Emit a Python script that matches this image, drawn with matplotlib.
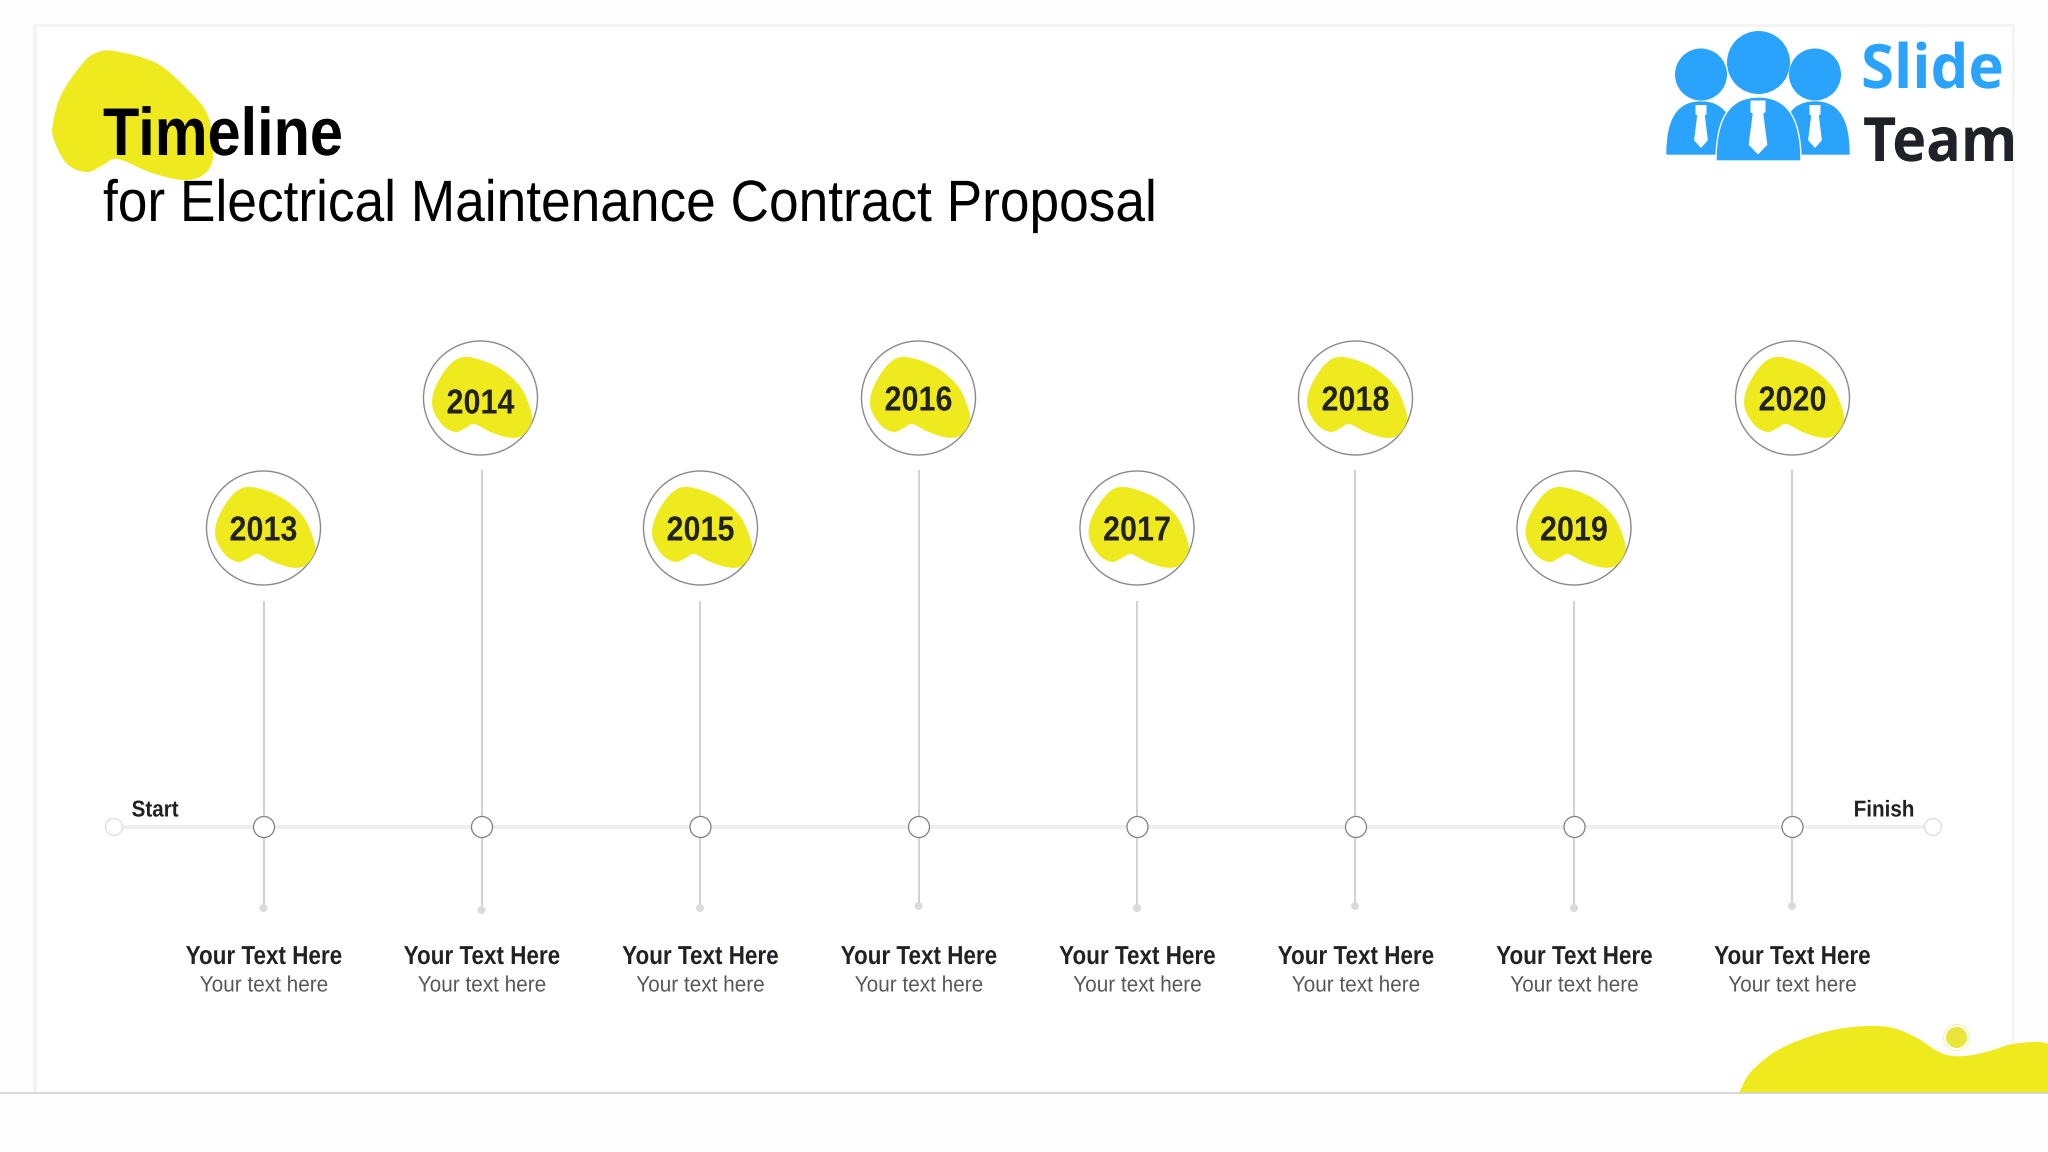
#!/usr/bin/env python
#
# Timeline slide, drawn on an axes that runs in reference pixels
#
import matplotlib
matplotlib.use("Agg")
from matplotlib import pyplot as plt
from matplotlib.patches import Circle, PathPatch, Polygon
from matplotlib.patheffects import AbstractPathEffect
from matplotlib.path import Path
from matplotlib.transforms import Affine2D
import numpy as np

######################################################
# Data
######################################################
years = ['2013', '2014', '2015', '2016', '2017', '2018', '2019', '2020']
node_x = [264, 482, 700.5, 919, 1137.5, 1356, 1574.5, 1792.5]
stem_x = [263.5, 481.5, 700, 918.5, 1137, 1355, 1574, 1792]
badge_x = [263.5, 480.5, 700.5, 918.5, 1137, 1355.5, 1574, 1792.5]
badge_y = [528, 398, 528, 398, 528, 398, 528, 398]
year_y = [531, 404, 531, 401, 531, 401, 531, 401]
stem_top = [602, 471, 602, 471, 602, 471, 602, 471]
dot_y = [908, 910, 908, 906, 908, 906, 908, 906]
heading = 'Your Text Here'
subtext = 'Your text here'

# blob outlines
title_blob = [(114, 51), (156, 63), (188, 90), (208, 116), (213, 157), (203, 175),
              (183, 180), (152, 173), (118, 159), (103, 165), (87, 172), (67, 164),
              (54, 140), (53, 123), (62, 93), (83, 63), (96, 53)]
year_blob = [(-13, -41), (17, -31), (40, -11), (51, 15), (50, 27), (41, 38), (28, 39.5),
             (10, 34), (-6, 26), (-15, 30), (-25, 34), (-38, 27), (-48, 9), (-45, -11),
             (-30, -34)]
foot_blob = [(1725, 1125), (1739, 1093), (1750, 1073), (1773, 1053), (1800, 1040),
             (1833, 1030), (1867, 1026), (1893, 1028), (1917, 1038), (1937, 1051),
             (1953, 1056), (1973, 1055), (1993, 1050), (2013, 1044), (2045, 1043),
             (2060, 1060), (2060, 1140), (1800, 1140)]

yellow = '#eeea1e'
sans = ['Liberation Sans', 'DejaVu Sans']


class Squeeze(AbstractPathEffect):
    # the narrow face is not installed, so narrow the glyphs around x0
    def __init__(self, sx, x0):
        self.sx = sx
        self.x0 = x0

    def draw_path(self, renderer, gc, tpath, affine, rgbFace=None):
        narrow = Affine2D().translate(-self.x0, 0).scale(self.sx, 1).translate(self.x0, 0)
        renderer.draw_path(gc, tpath, affine + narrow, rgbFace)


def smooth(points):
    # closed catmull-rom through the points, as bezier segments
    pts = np.array(points, dtype=float)
    n = len(pts)
    verts = [pts[0]]
    codes = [Path.MOVETO]
    for i in range(n):
        p0, p1, p2, p3 = pts[i - 1], pts[i], pts[(i + 1) % n], pts[(i + 2) % n]
        verts += [p1 + (p2 - p0) / 6, p2 - (p3 - p1) / 6, p2]
        codes += [Path.CURVE4] * 3
    return Path(verts, codes)


def body(cx, half, top, bottom):
    # shoulders of a logo figure
    verts = [(cx - half, bottom), (cx - half, top + (bottom - top) * 0.25),
             (cx - half * 0.6, top), (cx, top), (cx + half * 0.6, top),
             (cx + half, top + (bottom - top) * 0.25), (cx + half, bottom),
             (cx - half, bottom)]
    codes = [Path.MOVETO] + [Path.CURVE4] * 6 + [Path.CLOSEPOLY]
    return Path(verts, codes)


fig = plt.figure(figsize=(20.48, 11.52), dpi=100, facecolor='#fefefe')
ax = fig.add_axes([0, 0, 1, 1])
ax.set_xlim(0, 2048)
ax.set_ylim(1152, 0)
ax.axis('off')


def label(x, y, s, sx, **kw):
    return ax.text(x, y, s, path_effects=[Squeeze(sx, x)], zorder=5, **kw)


# Slide card
ax.add_patch(plt.Rectangle((33, 24), 1982, 1069, fc='#f4f4f5', ec='none', zorder=0))
ax.add_patch(plt.Rectangle((37, 27), 1975, 1066, fc='white', ec='none', zorder=0.1))

# Footer
ax.add_patch(PathPatch(smooth(foot_blob), fc=yellow, ec='none', zorder=1))
ax.add_patch(plt.Rectangle((0, 1093), 2048, 59, fc='#fefefe', ec='none', zorder=1.5))
ax.plot([0, 2048], [1093, 1093], color='#cfcfcf', lw=1.1, zorder=2)
ax.add_patch(Circle((1956.5, 1037.5), 13, fc='white', ec='#f6f3a8', lw=0.8, zorder=2))
ax.add_patch(Circle((1956.5, 1037.5), 10.5, fc='#e9e53a', ec='none', zorder=3))

# Title
ax.add_patch(PathPatch(smooth(title_blob), fc=yellow, ec='none', zorder=1))
label(103, 155, 'Timeline', 0.88, family=sans, weight='bold', fontsize=48.6,
      color='black', va='baseline')
label(103, 221, 'for Electrical Maintenance Contract Proposal', 0.913, family=sans,
      fontsize=42, color='black', va='baseline')

# Logo
blue = '#29a3fb'
for cx, half, top, bottom in [(1701, 34, 102, 154), (1815, 34, 102, 154)]:
    ax.add_patch(PathPatch(body(cx, half, top, bottom), fc=blue, ec=blue, lw=1, zorder=2))
ax.add_patch(PathPatch(body(1758.5, 42.5, 97, 161), fc=blue, ec='white', lw=1, zorder=3))
for cx, cy, r in [(1701, 74.5, 26), (1815, 74.5, 26), (1758.5, 62.5, 31.5)]:
    ax.add_patch(Circle((cx, cy), r, fc=blue, ec='none', zorder=3))
for cx, top, w, h in [(1701, 105, 5.5, 43), (1815, 105, 5.5, 43), (1758, 100.5, 7.5, 54)]:
    ax.add_patch(Polygon([(cx - w, top), (cx + w, top), (cx + w, top + h * 0.22),
                          (cx + w * 0.7, top + h * 0.24), (cx + w * 1.25, top + h * 0.82),
                          (cx, top + h), (cx - w * 1.25, top + h * 0.82),
                          (cx - w * 0.7, top + h * 0.24), (cx - w, top + h * 0.22)],
                         fc='white', ec='none', zorder=4))
label(1861, 88, 'Slide', 0.98, family='Open Sans', weight='bold', fontsize=44, color=blue,
      va='baseline')
label(1863, 161, 'Team', 0.94, family='Open Sans', weight='bold', fontsize=44,
      color='#1f2328', va='baseline')

# Timeline axis
ax.plot([122, 1925], [827, 827], color='#f0eff1', lw=3, solid_capstyle='butt', zorder=2)
for x in [114, 1933]:
    ax.add_patch(Circle((x, 827), 8.5, fc='white', ec='#dedee0', lw=1, zorder=3))
label(155, 810, 'Start', 0.9, family=sans, weight='bold', fontsize=16.5, color='#222226',
      ha='center', va='center')
label(1884, 810, 'Finish', 0.9, family=sans, weight='bold', fontsize=16.5, color='#222226',
      ha='center', va='center')

# Stems, nodes, badges and captions
for i in range(len(years)):
    ax.plot([stem_x[i], stem_x[i]], [stem_top[i], dot_y[i]], color='#d2d1d5', lw=1.5, zorder=2)
    ax.add_patch(Circle((stem_x[i], dot_y[i]), 4, fc='#dbdadd', ec='none', zorder=3))
    ax.add_patch(Circle((node_x[i], 827), 10.5, fc='white', ec='#808084', lw=0.9, zorder=3))

    ax.add_patch(Circle((badge_x[i], badge_y[i]), 57, fc='white', ec='#8a8a8d', lw=1, zorder=2))
    blob = [(badge_x[i] + px, badge_y[i] + py) for px, py in year_blob]
    ax.add_patch(PathPatch(smooth(blob), fc=yellow, ec='none', zorder=3))
    label(badge_x[i], year_y[i], years[i], 0.88, family=sans, weight='bold', fontsize=25,
          color='#222222', ha='center', va='center')

    label(node_x[i], 957, heading, 0.865, family=sans, weight='bold', fontsize=18.7,
          color='#222226', ha='center', va='center')
    label(node_x[i], 986, subtext, 0.934, family=sans, fontsize=16, color='#58585c',
          ha='center', va='center')

fig.savefig('out.png', dpi=100, facecolor=fig.get_facecolor())
